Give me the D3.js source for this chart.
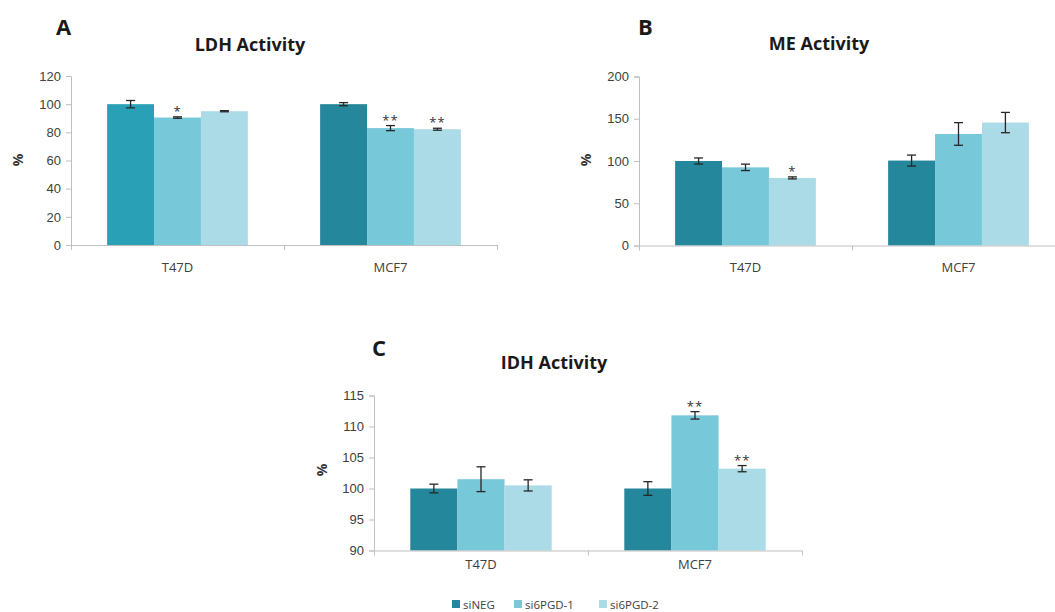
<!DOCTYPE html>
<html>
<head>
<meta charset="utf-8">
<script src="https://cdn.jsdelivr.net/npm/d3@7"></script>
<style>
  body { margin: 0; background: #fff; }
  svg { font-family: "Open Sans", sans-serif; }
  .tick text { fill: #404040; font-size: 13px; }
</style>
</head>
<body>
<svg width="1055" height="612"></svg>
<script>
// data
const categories = ["T47D", "MCF7"];
const series = ["siNEG", "si6PGD-1", "si6PGD-2"];

const ldhValues = [[100, 90.5, 95], [100, 83, 82.2]];
const ldhErrors = [[2.6, 0.5, 0.4], [1.1, 1.8, 0.7]];
const ldhStars  = [["", "*", ""], ["", "**", "**"]];
const ldhTicks  = [0, 20, 40, 60, 80, 100, 120];

const meValues = [[100, 92.5, 80], [100.5, 132, 145.5]];
const meErrors = [[3.6, 3.8, 1.2], [6.5, 13.4, 12]];
const meStars  = [["", "", "*"], ["", "", ""]];
const meTicks  = [0, 50, 100, 150, 200];

const idhValues = [[100, 101.5, 100.5], [100, 111.8, 103.2]];
const idhErrors = [[0.7, 2.0, 0.9], [1.1, 0.6, 0.5]];
const idhStars  = [["", "", ""], ["", "**", "**"]];
const idhTicks  = [90, 95, 100, 105, 110, 115];

// styles
const colors = ["#24879b", "#77c8d9", "#abdbe6"];
const axisColor = "#bfbfbf";

const svg = d3.select("svg");

// layout of each panel
const panels = [
  { letter: "A", title: "LDH Activity", values: ldhValues, errors: ldhErrors, stars: ldhStars, ticks: ldhTicks,
    left: 71, right: 497, top: 76, bottom: 245, letterX: 56, letterY: 35, titleX: 250, titleY: 51,
    pctX: 18, pctY: 160, catY: 272, firstFill: "#2aa0b7" },
  { letter: "B", title: "ME Activity", values: meValues, errors: meErrors, stars: meStars, ticks: meTicks,
    left: 639, right: 1065, top: 76.5, bottom: 245.5, letterX: 638, letterY: 35, titleX: 819, titleY: 50,
    pctX: 586, pctY: 160, catY: 272 },
  { letter: "C", title: "IDH Activity", values: idhValues, errors: idhErrors, stars: idhStars, ticks: idhTicks,
    left: 374, right: 802, top: 395.5, bottom: 550.5, letterX: 372, letterY: 356, titleX: 554, titleY: 369,
    pctX: 322, pctY: 470, catY: 569 }
];

panels.forEach(p => {
  const g = svg.append("g");

  const y = d3.scaleLinear()
    .domain(d3.extent(p.ticks))
    .range([p.bottom, p.top]);

  const x0 = d3.scaleBand()
    .domain(categories)
    .range([p.left, p.right]);

  const x1 = d3.scaleBand()
    .domain(series)
    .range([0, x0.bandwidth()])
    .paddingOuter(0.77);

  // y axis
  const yAxis = g.append("g")
    .attr("transform", `translate(${p.left},0)`)
    .call(d3.axisLeft(y).tickValues(p.ticks).tickSize(5).tickPadding(5));
  yAxis.selectAll("line, path").attr("stroke", axisColor);

  // bars
  categories.forEach((cat, ci) => {
    series.forEach((s, si) => {
      const v = p.values[ci][si];
      let fill = colors[si];
      if (p.firstFill && ci === 0 && si === 0) fill = p.firstFill;
      g.append("rect")
        .attr("x", x0(cat) + x1(s))
        .attr("y", y(v))
        .attr("width", x1.bandwidth())
        .attr("height", y.range()[0] - y(v))
        .attr("fill", fill);
    });
  });

  // x axis line with group ticks
  g.append("line")
    .attr("x1", p.left).attr("x2", p.right)
    .attr("y1", p.bottom + 0.5).attr("y2", p.bottom + 0.5)
    .attr("stroke", axisColor);
  [p.left].concat(categories.map(c => x0(c) + x0.bandwidth())).forEach(tx => {
    g.append("line")
      .attr("x1", tx + 0.5).attr("x2", tx + 0.5)
      .attr("y1", p.bottom).attr("y2", p.bottom + 5)
      .attr("stroke", axisColor);
  });

  // error bars and significance stars
  categories.forEach((cat, ci) => {
    series.forEach((s, si) => {
      const v = p.values[ci][si];
      const e = p.errors[ci][si];
      const cx = x0(cat) + x1(s) + x1.bandwidth() / 2;
      const eb = g.append("g").attr("stroke", "#262626").attr("stroke-width", 1.3);
      eb.append("line").attr("x1", cx).attr("x2", cx).attr("y1", y(v - e)).attr("y2", y(v + e));
      eb.append("line").attr("x1", cx - 4.5).attr("x2", cx + 4.5).attr("y1", y(v - e)).attr("y2", y(v - e));
      eb.append("line").attr("x1", cx - 4.5).attr("x2", cx + 4.5).attr("y1", y(v + e)).attr("y2", y(v + e));
      const star = p.stars[ci][si];
      if (star) {
        g.append("text")
          .attr("x", cx)
          .attr("y", y(v + e) - 1)
          .attr("text-anchor", "middle")
          .attr("font-size", 13)
          .attr("letter-spacing", 1)
          .attr("fill", "#333")
          .text(star);
      }
    });
  });

  // category labels
  categories.forEach(cat => {
    g.append("text")
      .attr("x", x0(cat) + x0.bandwidth() / 2)
      .attr("y", p.catY)
      .attr("text-anchor", "middle")
      .attr("font-size", 13)
      .attr("fill", "#404040")
      .text(cat);
  });

  // titles
  g.append("text")
    .attr("x", p.titleX).attr("y", p.titleY)
    .attr("text-anchor", "middle")
    .attr("font-size", 18).attr("font-weight", "bold")
    .attr("fill", "#1a1a1a")
    .text(p.title);

  g.append("text")
    .attr("x", p.letterX).attr("y", p.letterY)
    .attr("font-size", 22).attr("font-weight", "bold")
    .attr("fill", "#1a1a1a")
    .text(p.letter);

  g.append("text")
    .attr("transform", `translate(${p.pctX},${p.pctY}) rotate(-90)`)
    .attr("text-anchor", "middle")
    .attr("dy", "0.35em")
    .attr("font-size", 14).attr("font-weight", "bold")
    .attr("fill", "#333")
    .text("%");
});

// legend
const legendX = [452, 514, 599];
const legend = svg.append("g");
series.forEach((s, i) => {
  legend.append("rect")
    .attr("x", legendX[i]).attr("y", 600)
    .attr("width", 8).attr("height", 8)
    .attr("fill", colors[i]);
  legend.append("text")
    .attr("x", legendX[i] + 11).attr("y", 608.5)
    .attr("font-size", 11.5)
    .attr("fill", "#404040")
    .text(s);
});
</script>
</body>
</html>
